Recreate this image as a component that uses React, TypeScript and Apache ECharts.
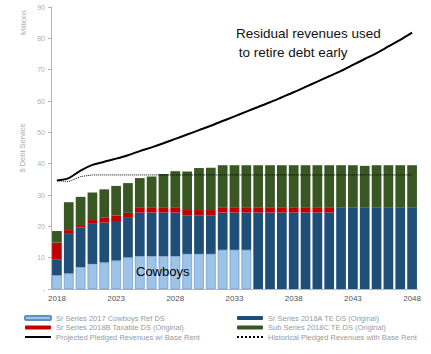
import React, { useEffect, useRef } from "react";
import * as echarts from "echarts";

const years = Array.from({ length: 31 }, (_, i) => String(2018 + i));

const cowboysRef = [4.4, 5.0, 7.0, 8.0, 8.5, 9.1, 10.1, 10.5, 10.5, 10.5, 10.5, 11.2, 11.2, 11.2, 12.5, 12.5, 12.5,
  null, null, null, null, null, null, null, null, null, null, null, null, null, null];
const series2018A = [5.1, 12.6, 12.6, 12.8, 12.7, 12.6, 12.6, 13.9, 13.9, 13.9, 13.9, 12.2, 12.2, 12.2, 11.9, 11.9, 11.9,
  24.4, 24.4, 24.4, 24.4, 24.4, 24.4, 24.4, 26.1, 26.1, 26.1, 26.1, 26.1, 26.1, 26.1];
const series2018B = [5.3, 1.2, 0.8, 1.2, 1.7, 1.7, 1.6, 1.7, 1.7, 1.7, 1.7, 1.8, 1.8, 1.8, 1.7, 1.7, 1.7,
  1.7, 1.7, 1.7, 1.7, 1.7, 1.7, 1.7, null, null, null, null, null, null, null];
const series2018C = [3.7, 8.9, 9.0, 8.8, 8.9, 9.5, 9.5, 9.3, 9.8, 10.6, 11.5, 12.3, 13.4, 13.5, 13.4, 13.4, 13.4,
  13.4, 13.4, 13.4, 13.4, 13.4, 13.4, 13.4, 13.4, 13.4, 13.2, 13.4, 13.4, 13.4, 13.4];
const projected = [34.6, 35.4, 37.8, 39.6, 40.6, 41.6, 42.7, 44.0, 45.2, 46.5, 47.9, 49.3, 50.7, 52.1, 53.6, 55.1, 56.6,
  58.1, 59.6, 61.2, 62.8, 64.5, 66.2, 67.9, 69.6, 71.5, 73.4, 75.3, 77.4, 79.5, 81.8];
const historical = [34.6, 34.3, 35.9, 36.4, 36.4, 36.4, 36.4, 36.4, 36.4, 36.4, 36.4, 36.4, 36.4, 36.4, 36.4, 36.4, 36.4,
  36.4, 36.4, 36.4, 36.4, 36.4, 36.4, 36.4, 36.4, 36.4, 36.4, 36.4, 36.4, 36.4, 36.4];

const names = [
  "Sr Series 2017 Cowboys Ref DS",
  "Sr Series 2018A TE DS (Original)",
  "Sr Series 2018B Taxable DS (Original)",
  "Sub Series 2018C TE DS (Original)",
  "Projected Pledged Revenues w/ Base Rent",
  "Historical Pledged Revenues with Base Rent",
];

export default function App() {
  const ref = useRef<HTMLDivElement>(null);
  useEffect(() => {
    if (!ref.current) return;
    const chart = echarts.init(ref.current, null, { renderer: "svg" });
    const font = "Liberation Sans";
    const legendText = { fontSize: 7.5, color: "#9a9a9a", fontFamily: font };
    const barBase = { type: "bar", stack: "ds", barCategoryGap: "18%" };
    const hideSym = { opacity: 0, color: "rgba(0,0,0,0)", borderWidth: 0 };
    chart.setOption({
      animation: false,
      grid: { left: 51, right: 13, top: 7, bottom: 65 },
      legend: [
        {
          left: 19, top: 309, orient: "vertical", itemWidth: 26, itemHeight: 4, itemGap: 1.5,
          textStyle: legendText,
          data: [names[0], names[2], { name: names[4], itemStyle: hideSym }],
        },
        {
          left: 231, top: 309, orient: "vertical", itemWidth: 26, itemHeight: 4, itemGap: 1.5,
          textStyle: legendText,
          data: [names[1], names[3], { name: names[5], itemStyle: hideSym }],
        },
      ],
      xAxis: {
        type: "category",
        data: years,
        axisLine: { lineStyle: { color: "#b5b5b5" } },
        axisTick: { interval: 0, length: 3, lineStyle: { color: "#b5b5b5" } },
        axisLabel: { interval: 4, fontSize: 8, color: "#555", margin: 5, fontFamily: font },
      },
      yAxis: {
        type: "value",
        min: 0, max: 90, interval: 10,
        name: "$ Debt Service",
        nameLocation: "middle",
        nameGap: 25,
        nameTextStyle: { fontSize: 7.5, color: "#aaa", fontFamily: font },
        splitLine: { show: false },
        axisLine: { show: true, lineStyle: { color: "#b5b5b5" } },
        axisTick: { show: true, length: 3, lineStyle: { color: "#b5b5b5" } },
        axisLabel: {
          fontSize: 7, color: "#b0b0b0", margin: 6, fontFamily: font,
          formatter: (v: number) => (v === 0 ? "-" : String(v)),
        },
      },
      graphic: [
        {
          type: "text", left: 19, top: 10, rotation: Math.PI / 2, z: 100,
          style: { text: "Millions", fontSize: 7.5, fill: "#b0b0b0", fontFamily: font },
        },
        {
          type: "text", left: 236, top: 26, z: 100,
          style: { text: "Residual revenues used", fontSize: 13.5, fill: "#111", fontFamily: font },
        },
        {
          type: "text", left: 235, top: 45, z: 100,
          style: { text: " to retire debt early", fontSize: 13.5, fill: "#111", fontFamily: font },
        },
        {
          type: "text", left: 136, top: 265, z: 100,
          style: { text: "Cowboys", fontSize: 13, fill: "#000", fontFamily: font },
        },
      ],
      series: [
        {
          ...barBase, name: names[0], data: cowboysRef,
          itemStyle: { color: "#9dc3e6", borderColor: "#5b8fc7", borderWidth: 0.6 },
        },
        { ...barBase, name: names[1], data: series2018A, itemStyle: { color: "#1f4e79" } },
        { ...barBase, name: names[2], data: series2018B, itemStyle: { color: "#c00000" } },
        { ...barBase, name: names[3], data: series2018C, itemStyle: { color: "#385723" } },
        {
          type: "line", name: names[4], data: projected, symbol: "none", smooth: 0.3,
          lineStyle: { color: "#000", width: 2 }, itemStyle: { color: "#000" },
        },
        {
          type: "line", name: names[5], data: historical, symbol: "none",
          lineStyle: { color: "#000", width: 1, type: "dotted" }, itemStyle: { color: "#000" },
        },
      ],
    });
    return () => chart.dispose();
  }, []);
  return <div ref={ref} style={{ width: 431, height: 354, position: "absolute", left: 0, top: 0 }} />;
}
